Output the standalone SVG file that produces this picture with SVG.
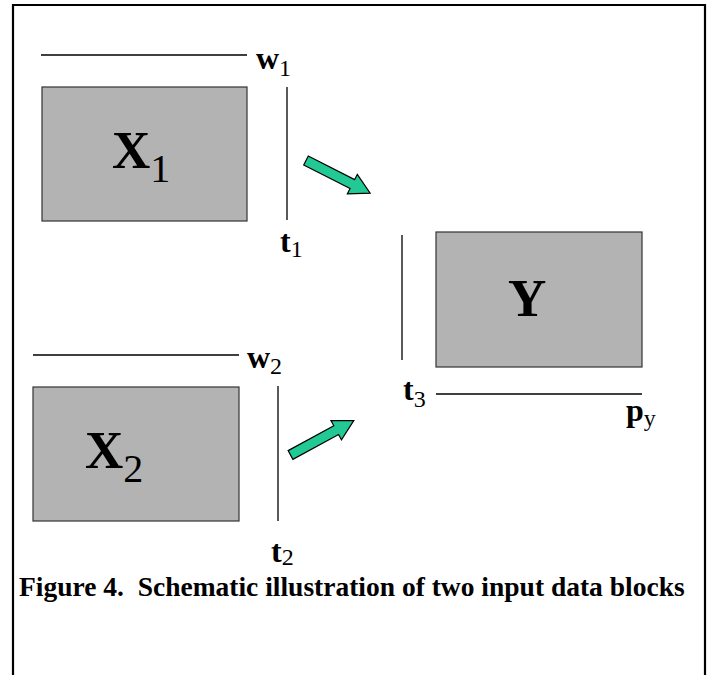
<svg xmlns="http://www.w3.org/2000/svg" width="710" height="675" viewBox="0 0 710 675">
<style>
.frame{fill:none;stroke:#000;stroke-width:2.2}
.blk{fill:#b3b3b3;stroke:#333;stroke-width:1.2}
.ln{stroke:#000;stroke-width:1.3;fill:none}
.big{font-family:"Liberation Serif","Times New Roman",serif;font-size:53px;font-weight:bold}
.lab{font-family:"Liberation Serif","Times New Roman",serif;font-size:32px;font-weight:bold}
.sub{font-weight:normal}
.arr{fill:#22c994;stroke:#000;stroke-width:1.2;stroke-linejoin:miter}
.cap{font-family:"Liberation Serif","Times New Roman",serif;font-size:27.5px;font-weight:bold;white-space:pre}
</style>
<defs>
<polygon id="arrow" points="0,-5 52,-5 52,-11 72,0 52,11 52,5 0,5"/>
</defs>
<path class="frame" d="M13,675 V5 H705 V675"/>
<g id="X1">
<rect class="blk" x="42" y="87" width="205" height="134"/>
<text class="big" x="112" y="168">X<tspan class="sub" font-size="40" dy="14">1</tspan></text>
</g>
<g id="X2">
<rect class="blk" x="33" y="387" width="206" height="134"/>
<text class="big" x="85" y="468">X<tspan class="sub" font-size="40" dy="14">2</tspan></text>
</g>
<g id="Y">
<rect class="blk" x="436" y="232" width="206" height="135"/>
<text class="big" x="508" y="316">Y</text>
</g>
<g id="axes">
<line class="ln" x1="41" y1="55" x2="247" y2="55"/>
<line class="ln" x1="287" y1="87" x2="287" y2="220"/>
<line class="ln" x1="33" y1="355" x2="239" y2="355"/>
<line class="ln" x1="278" y1="386" x2="278" y2="521"/>
<line class="ln" x1="402" y1="235" x2="402" y2="360"/>
<line class="ln" x1="436" y1="394" x2="642" y2="394"/>
<text class="lab" x="256" y="69">w<tspan class="sub" font-size="24" dy="7">1</tspan></text>
<text class="lab" x="280" y="252">t<tspan class="sub" font-size="24" dy="5">1</tspan></text>
<text class="lab" x="247" y="368">w<tspan class="sub" font-size="24" dy="6">2</tspan></text>
<text class="lab" x="271" y="562">t<tspan class="sub" font-size="24" dy="3">2</tspan></text>
<text class="lab" x="403" y="400">t<tspan class="sub" font-size="24" dy="7">3</tspan></text>
<text class="lab" x="626" y="421">p<tspan class="sub" font-size="24" dy="5">y</tspan></text>
</g>
<g id="connectors">
<use href="#arrow" class="arr" transform="translate(306,160.5) rotate(27)"/>
<use href="#arrow" class="arr" transform="translate(290.5,455) rotate(-28.5)"/>
</g>
<text class="cap" x="19" y="596" xml:space="preserve">Figure 4.  Schematic illustration of two input data blocks</text>
</svg>
